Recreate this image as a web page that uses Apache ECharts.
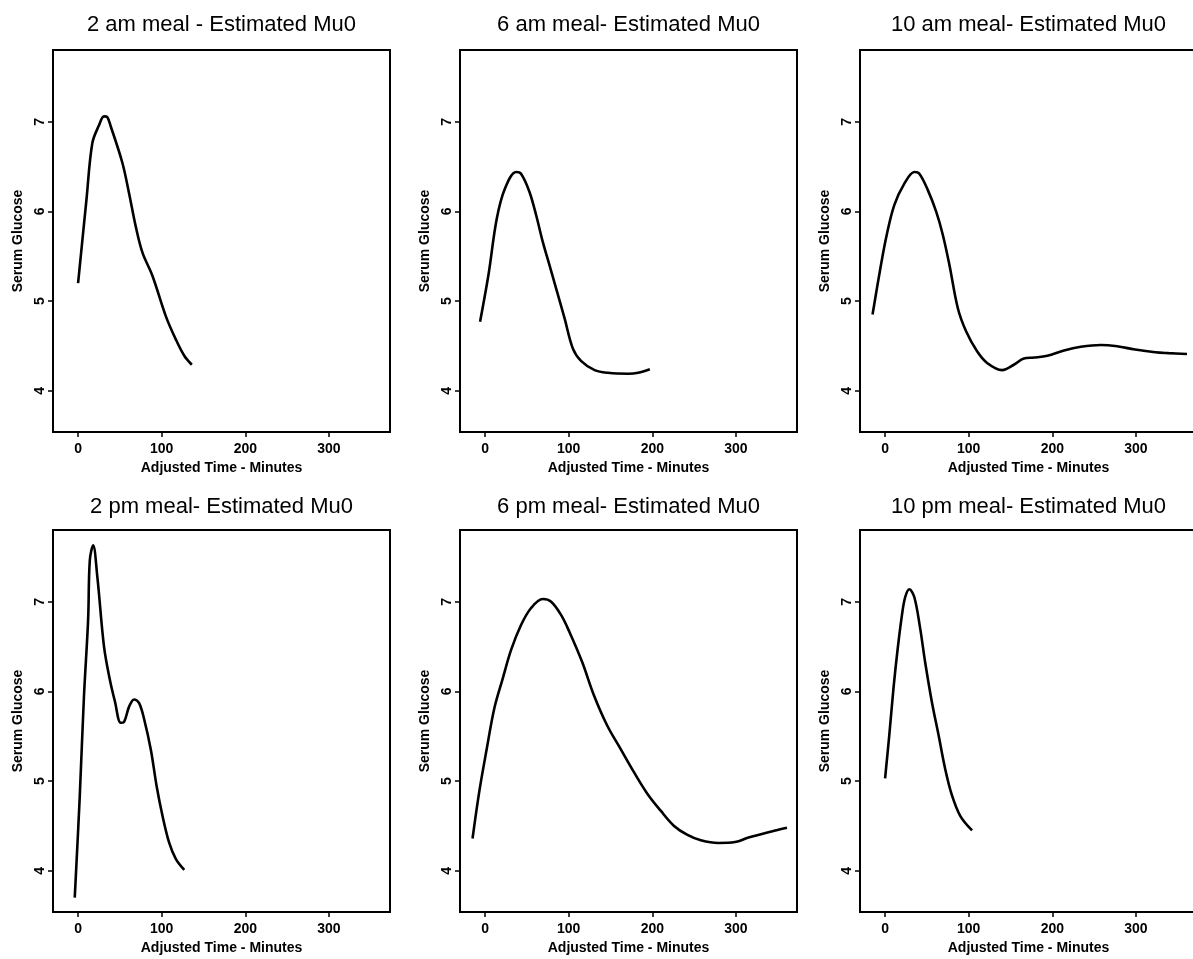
<!DOCTYPE html>
<html>
<head>
<meta charset="utf-8">
<script src="https://cdn.jsdelivr.net/npm/echarts@6/dist/echarts.min.js"></script>
<style>
html,body{margin:0;padding:0;background:#fff;}
#chart{width:1193px;height:959px;}
</style>
</head>
<body>
<div id="chart"></div>
<script>
// ---- Data ----
const panelTitles = [
  "2 am meal - Estimated Mu0",
  "6 am meal- Estimated Mu0",
  "10 am meal- Estimated Mu0",
  "2 pm meal- Estimated Mu0",
  "6 pm meal- Estimated Mu0",
  "10 pm meal- Estimated Mu0"
];
const xAxisName = "Adjusted Time - Minutes";
const yAxisName = "Serum Glucose";
const xTickValues = [0, 100, 200, 300];
const yTickValues = [4, 5, 6, 7];

const meal2am = [[0,5.20],[10,6.13],[17,6.76],[25,6.96],[31,7.06],[35,7.05],[39,6.95],[53,6.54],[61,6.20],[69,5.83],[77,5.54],[89,5.28],[105,4.83],[117,4.57],[127,4.39],[136,4.29]];
const meal6am = [[-6,4.77],[4,5.29],[14,5.92],[24,6.26],[37,6.44],[43,6.42],[53,6.22],[61,5.96],[69,5.66],[77,5.40],[85,5.14],[95,4.81],[105,4.47],[115,4.33],[131,4.23],[147,4.20],[171,4.19],[183,4.20],[197,4.24]];
const meal10am = [[-15,4.85],[-5,5.40],[2,5.74],[11,6.07],[23,6.31],[35,6.44],[41,6.42],[51,6.24],[61,6.00],[69,5.74],[77,5.40],[87,4.92],[97,4.66],[110,4.44],[122,4.31],[140,4.23],[154,4.29],[166,4.36],[178,4.37],[194,4.39],[214,4.45],[234,4.49],[258,4.51],[275,4.50],[299,4.46],[323,4.43],[339,4.42],[361,4.41]];
const meal2pm = [[-4,3.70],[2,4.83],[7,5.94],[12,6.80],[14,7.46],[18,7.63],[23,7.28],[31,6.50],[38,6.13],[44,5.89],[51,5.65],[55,5.66],[61,5.83],[67,5.91],[73,5.87],[79,5.69],[87,5.35],[94,4.94],[101,4.61],[109,4.31],[117,4.13],[127,4.01]];
const meal6pm = [[-15,4.36],[-7,4.88],[2,5.36],[11,5.81],[21,6.14],[31,6.46],[43,6.74],[55,6.93],[69,7.03],[79,7.00],[91,6.85],[101,6.66],[116,6.33],[130,5.96],[146,5.62],[162,5.36],[178,5.10],[194,4.86],[210,4.67],[226,4.50],[242,4.40],[258,4.34],[279,4.31],[299,4.32],[315,4.37],[331,4.41],[347,4.45],[361,4.48]];
const meal10pm = [[0,5.03],[5,5.51],[10,6.03],[15,6.47],[20,6.84],[24,7.05],[29,7.14],[35,7.05],[42,6.70],[48,6.32],[56,5.88],[64,5.51],[72,5.13],[80,4.84],[90,4.61],[104,4.45]];

const panelData = [meal2am, meal6am, meal10am, meal2pm, meal6pm, meal10pm];

// ---- Layout ----
const colLeft = [53, 460, 860];
const rowTop = [50, 530];
const plotW = 337;
const plotH = 382;
const titleTop = [14, 496];
const FONT = "'Liberation Sans', Arial, Helvetica, sans-serif";

const chart = echarts.init(document.getElementById('chart'), null, {renderer: 'canvas'});

const grids = [], xAxes = [], yAxes = [], series = [], titles = [];
panelData.forEach((data, i) => {
  const r = Math.floor(i / 3), c = i % 3;
  grids.push({
    left: colLeft[c], top: rowTop[r], width: plotW, height: plotH,
    show: true, borderColor: '#000', borderWidth: 2, backgroundColor: 'transparent',
    containLabel: false, outerBoundsMode: 'none'
  });
  xAxes.push({
    type: 'value', gridIndex: i, min: -30, max: 373,
    name: xAxisName, nameLocation: 'middle', nameGap: 29,
    nameTextStyle: {fontFamily: FONT, fontSize: 14, fontWeight: 'bold', color: '#000'},
    axisLine: {show: false, onZero: false},
    axisTick: {show: true, length: 5, inside: false, customValues: xTickValues, lineStyle: {color: '#000', width: 1.5}},
    axisLabel: {show: true, customValues: xTickValues, margin: 10, fontFamily: FONT, fontSize: 14, fontWeight: 'bold', color: '#000'},
    splitLine: {show: false}
  });
  yAxes.push({
    type: 'value', gridIndex: i, min: 3.54, max: 7.80,
    name: yAxisName, nameLocation: 'middle', nameGap: 28,
    nameTextStyle: {fontFamily: FONT, fontSize: 14, fontWeight: 'bold', color: '#000'},
    axisLine: {show: false, onZero: false},
    axisTick: {show: true, length: 5, inside: false, customValues: yTickValues, lineStyle: {color: '#000', width: 1.5}},
    axisLabel: {show: true, customValues: yTickValues, rotate: 90, margin: 6, fontFamily: FONT, fontSize: 14, fontWeight: 'bold', color: '#000'},
    splitLine: {show: false}
  });
  series.push({
    type: 'line', xAxisIndex: i, yAxisIndex: i, data: data,
    smooth: 0.35, showSymbol: false, symbol: 'none',
    lineStyle: {color: '#000', width: 2.6}, animation: false
  });
  titles.push({
    text: panelTitles[i], left: colLeft[c] + plotW / 2, top: titleTop[r],
    textAlign: 'center', padding: 0,
    textStyle: {fontFamily: FONT, fontSize: 22, fontWeight: 'normal', color: '#000'}
  });
});

chart.setOption({
  animation: false,
  backgroundColor: '#fff',
  title: titles,
  grid: grids,
  xAxis: xAxes,
  yAxis: yAxes,
  series: series
});
</script>
</body>
</html>
